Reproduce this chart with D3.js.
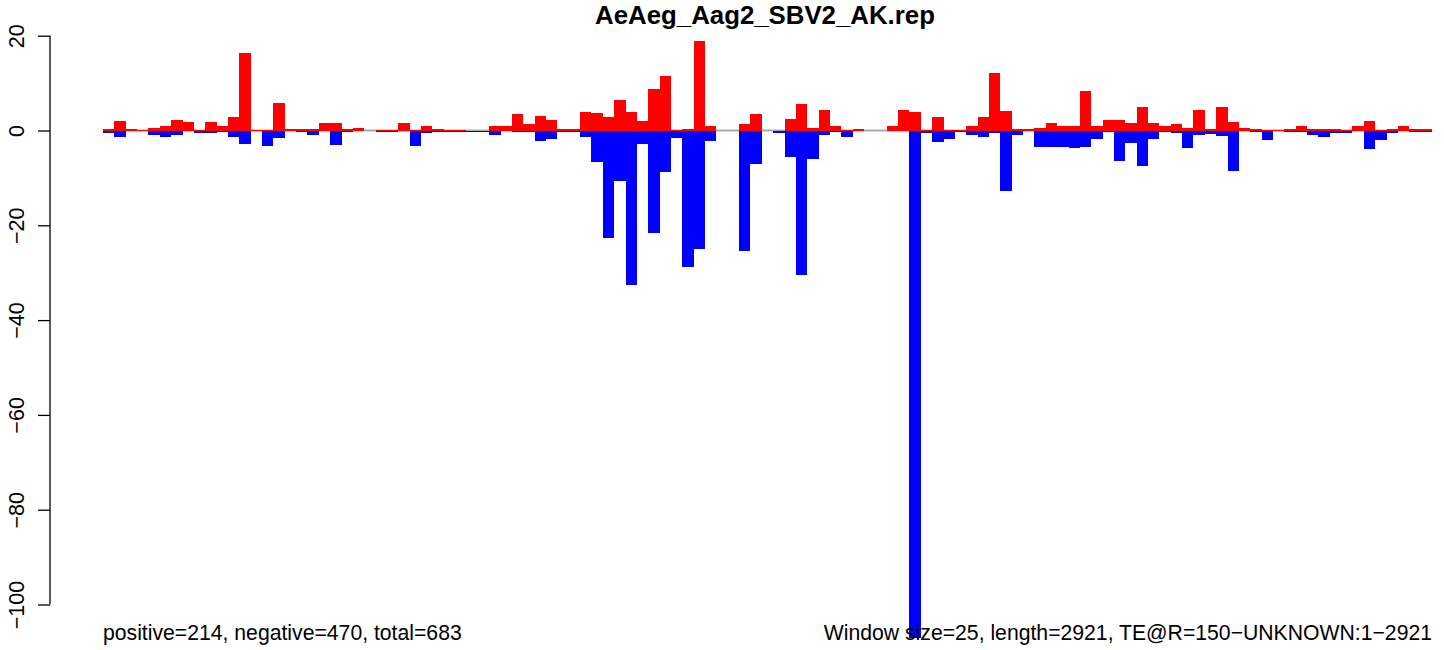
<!DOCTYPE html>
<html>
<head>
<meta charset="utf-8">
<script src="https://cdn.jsdelivr.net/npm/d3@7"></script>
<style>
html,body{margin:0;padding:0;background:#fff;}
svg{display:block;font-family:"Liberation Sans",Arial,Helvetica,sans-serif;}
</style>
</head>
<body>
<svg id="chart" width="1444" height="650"></svg>
<script>
const title = "AeAeg_Aag2_SBV2_AK.rep";
const windowSize = 25;
const seqLength = 2921;
const positive = [0.3,2.1,0.4,0.2,0.6,1.05,2.3,1.7,0.2,1.7,1.05,2.75,16.3,0.2,0.2,5.9,0.4,0.4,0.4,1.5,1.5,0.4,0.6,0,0.2,0.2,1.5,0.2,0.85,0.4,
  0.2,0.2,0,0,1.05,0.85,3.4,1.3,3.0,2.3,0.4,0.4,4.0,3.6,2.75,6.35,3.8,1.9,8.7,11.6,0.2,0.4,18.8,0.85,0,0,1.3,3.4,0,0,
  2.5,5.5,0.6,4.4,1.05,0.2,0.4,0,0,0.85,4.4,3.8,0.2,2.75,0.2,0.2,0.85,2.75,12.1,4.2,0.4,0.4,0.6,1.5,0.85,1.05,8.25,1.05,2.3,2.3,
  1.5,4.9,1.5,1.05,1.3,0.6,4.4,0.4,4.9,1.7,0.6,0.4,0.2,0.2,0.4,0.85,0.4,0.4,0.4,0.2,0.85,1.9,0.2,0.4,1.05,0.4,0.4];
const negative = [-0.5,-1.3,0,0,-0.85,-1.3,-0.85,-0.2,-0.6,-0.6,-0.4,-1.3,-2.75,-0.2,-3.2,-1.5,-0.2,-0.4,-1.05,-0.2,-3.0,-0.4,-0.2,0,-0.4,-0.4,0,-3.2,-0.6,-0.4,
  -0.4,-0.4,-0.4,-0.4,-1.05,-0.2,-0.4,-0.4,-2.3,-1.7,-0.4,-0.4,-1.3,-6.7,-22.6,-10.7,-32.6,-2.75,-21.7,-8.8,-1.6,-28.9,-24.9,-2.3,-0.2,0,-25.5,-7.1,0,-0.6,
  -5.6,-30.4,-6.1,-1.05,-0.4,-1.3,0,0,-0.2,0,-0.2,-107,-0.6,-2.5,-1.7,-0.4,-0.85,-1.3,-0.6,-12.8,-1.0,-0.15,-3.5,-3.5,-3.5,-3.7,-3.5,-1.8,-0.35,-6.5,
  -2.7,-7.5,-1.8,-0.35,-0.6,-3.7,-1.0,-0.8,-1.2,-8.6,0,-0.4,-2.1,-0.2,-0.4,-0.4,-1.05,-1.3,-0.6,-0.6,-0.2,-4.0,-2.1,-0.6,-0.2,-0.4,-0.4];
const yTicks = [20, 0, -20, -40, -60, -80, -100];
const leftNote = "positive=214, negative=470, total=683";
const rightNote = "Window size=25, length=2921, TE@R=150\u2212UNKNOWN:1\u22122921";

const svg = d3.select("#chart");
const nWin = positive.length;
const x = d3.scaleLinear().domain([0, nWin * windowSize]).range([103, 1432]);
const y = d3.scaleLinear().domain([-100, 20]).range([604.5, 35.7]);
const fs = 21.5;

// zero line (under bars)
svg.append("line")
  .attr("x1", x(0)).attr("x2", x(nWin * windowSize))
  .attr("y1", y(0)).attr("y2", y(0))
  .attr("stroke", "#aaaaaa").attr("stroke-width", 2);

const idx = d3.range(nWin);
svg.append("g").selectAll("rect").data(idx.filter(i => positive[i] > 0)).join("rect")
  .attr("x", i => x(i * windowSize))
  .attr("width", i => x((i + 1) * windowSize) - x(i * windowSize))
  .attr("y", i => y(positive[i]))
  .attr("height", i => y(0) - y(positive[i]))
  .attr("fill", "#ff0000")
  .attr("shape-rendering", "crispEdges");

svg.append("g").selectAll("rect").data(idx.filter(i => negative[i] < 0)).join("rect")
  .attr("x", i => x(i * windowSize))
  .attr("width", i => x((i + 1) * windowSize) - x(i * windowSize))
  .attr("y", y(0))
  .attr("height", i => y(negative[i]) - y(0))
  .attr("fill", "#0000ff")
  .attr("shape-rendering", "crispEdges");

// y axis
const axis = d3.axisLeft(y).tickValues(yTicks).tickSize(12).tickFormat(d => d < 0 ? "\u2212" + Math.abs(d) : String(d));
const ag = svg.append("g").attr("transform", "translate(50,0)").call(axis);
ag.select(".domain").attr("stroke", "#000").attr("stroke-width", 1.3).attr("d", `M0,${y(20)}V${y(-100)}`);
ag.selectAll(".tick line").attr("stroke", "#000").attr("stroke-width", 1.3);
ag.selectAll(".tick text")
  .attr("x", null).attr("dy", null)
  .attr("font-size", fs)
  .attr("font-family", "'Liberation Sans',Arial,Helvetica,sans-serif")
  .attr("fill", "#000")
  .attr("text-anchor", "middle")
  .attr("transform", "translate(-26,0) rotate(-90)");

// title
svg.append("text")
  .attr("x", 765).attr("y", 24)
  .attr("text-anchor", "middle")
  .attr("font-weight", "bold")
  .attr("font-size", 25.8)
  .text(title);

// bottom notes
svg.append("text").attr("x", 103).attr("y", 640).attr("font-size", 21.2).text(leftNote);
svg.append("text").attr("x", 1432).attr("y", 640).attr("text-anchor", "end").attr("font-size", 21.2).text(rightNote);
</script>
</body>
</html>
